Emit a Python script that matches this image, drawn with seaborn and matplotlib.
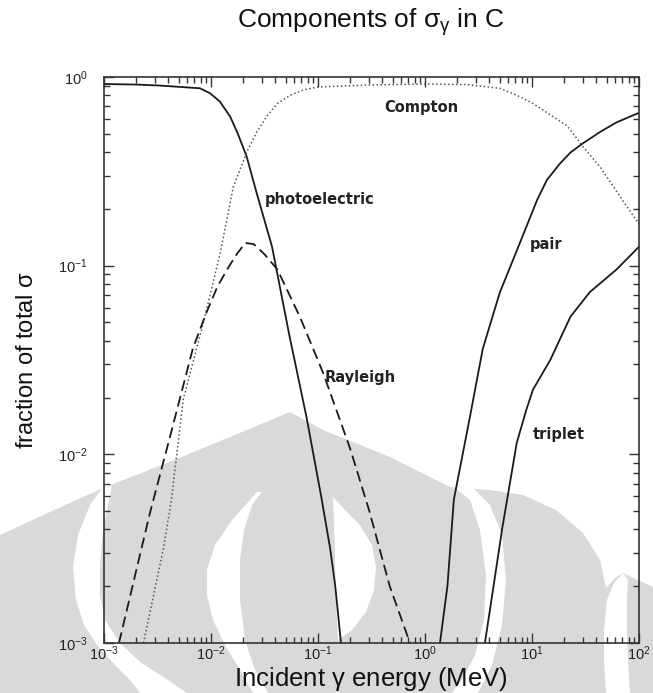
import matplotlib
matplotlib.use("Agg")
import matplotlib.pyplot as plt
from matplotlib.patches import Polygon
from matplotlib.ticker import LogLocator, NullFormatter
import pandas as pd
import seaborn as sns

# Photon energy (MeV) and fraction of the total cross section for carbon
photo_E = [0.001, 0.002, 0.0032, 0.005, 0.0079, 0.0098, 0.0121, 0.0151, 0.0178,
           0.0215, 0.0267, 0.0372, 0.054, 0.078, 0.107, 0.130, 0.145, 0.164]
photo_f = [0.918, 0.912, 0.902, 0.887, 0.871, 0.82, 0.741, 0.617, 0.501,
           0.380, 0.243, 0.126, 0.0427, 0.0158, 0.0060, 0.00316, 0.0020, 0.001]

compton_E = [0.00234, 0.00359, 0.00427, 0.0055, 0.0085, 0.0122, 0.0162, 0.0219,
             0.0269, 0.0331, 0.0417, 0.055, 0.0724, 0.10, 0.316, 1.0, 2.45, 5.0,
             7.2, 10.2, 14.8, 21.4, 30.0, 43.7, 66.0, 100.0]
compton_f = [0.001, 0.00316, 0.00575, 0.0195, 0.050, 0.117, 0.263, 0.407,
             0.513, 0.617, 0.724, 0.80, 0.853, 0.885, 0.908, 0.918, 0.912, 0.871,
             0.80, 0.724, 0.631, 0.55, 0.427, 0.331, 0.234, 0.166]

rayleigh_E = [0.00138, 0.00269, 0.00417, 0.00676, 0.0089, 0.0115, 0.0145, 0.0174,
              0.0209, 0.0251, 0.0316, 0.0417, 0.0676, 0.112, 0.200, 0.302, 0.468, 0.724]
rayleigh_f = [0.001, 0.0049, 0.0126, 0.0363, 0.055, 0.0776, 0.0977, 0.115,
              0.132, 0.130, 0.115, 0.0955, 0.0537, 0.0269, 0.0107, 0.005, 0.002, 0.001]

pair_E = [1.38, 1.62, 1.86, 2.63, 3.47, 5.0, 7.2, 11.2, 13.8, 18.2, 22.9, 30.2,
          43.7, 61.7, 100.0]
pair_f = [0.001, 0.002, 0.00575, 0.0158, 0.0363, 0.072, 0.12, 0.224, 0.285, 0.347,
          0.398, 0.447, 0.513, 0.575, 0.646]

triplet_E = [3.63, 4.37, 5.25, 7.2, 8.9, 10.2, 14.8, 22.9, 34.7, 61.7, 100.0]
triplet_f = [0.001, 0.002, 0.004, 0.0115, 0.0174, 0.022, 0.0316, 0.0537, 0.0724,
             0.0955, 0.126]

labels = ["Compton", "photoelectric", "pair", "Rayleigh", "triplet"]
label_E = [0.42, 0.032, 9.6, 0.116, 10.2]
label_f = [0.685, 0.223, 0.129, 0.0255, 0.01276]

sns.set_theme(style="ticks")
plt.rcParams["font.family"] = ["Liberation Sans", "DejaVu Sans"]
plt.rcParams["mathtext.fontset"] = "custom"
plt.rcParams["mathtext.rm"] = "Liberation Sans"
plt.rcParams["mathtext.it"] = "Liberation Sans:italic"
plt.rcParams["mathtext.default"] = "regular"

W, H = 653, 693
fig = plt.figure(figsize=(W / 100, H / 100), dpi=100)
fig.patch.set_facecolor("white")
ax = fig.add_axes([104 / W, 1 - 643 / H, 535 / W, 566 / H])
ax.patch.set_alpha(0)


def to_fig(pts):
    return [(x / W, 1 - y / H) for x, y in pts]


# faint emblem behind the plot
gray = "#d9d9d9"
emblem = [(0, 535), (50, 512), (103, 488), (167, 463), (230, 437), (290, 412),
          (323, 430), (390, 457), (450, 487), (490, 490), (523, 495), (556, 510),
          (583, 533), (600, 560), (606, 588), (615, 578), (623, 573), (653, 587),
          (653, 693), (0, 693)]
cuts = [
    [(103, 487), (90, 505), (78, 535), (73, 567), (76, 600), (84, 625), (97, 645),
     (115, 665), (130, 680), (140, 693), (187, 693), (165, 678), (140, 662),
     (120, 643), (105, 620), (100, 595), (100, 565), (103, 530), (108, 505), (112, 486)],
    [(257, 492), (250, 500), (232, 520), (215, 545), (207, 570), (207, 595), (213, 620),
     (225, 645), (240, 670), (253, 693), (268, 693), (255, 670), (245, 640), (240, 600),
     (240, 560), (244, 530), (252, 505), (262, 492)],
    [(333, 497), (345, 510), (360, 525), (372, 545), (376, 567), (374, 590), (366, 612),
     (352, 630), (338, 640), (336, 600), (335, 560), (334, 520)],
    [(455, 488), (470, 500), (480, 530), (486, 575), (484, 620), (475, 655), (462, 680),
     (452, 693), (478, 693), (492, 665), (502, 625), (506, 580), (502, 535), (490, 505),
     (473, 488)],
    [(623, 573), (614, 583), (607, 600), (604, 630), (604, 660), (606, 693), (630, 693),
     (628, 660), (627, 630), (627, 600), (628, 580)],
]
fig.add_artist(Polygon(to_fig(emblem), closed=True, transform=fig.transFigure,
                       facecolor=gray, edgecolor="none", zorder=-2))
for c in cuts:
    fig.add_artist(Polygon(to_fig(c), closed=True, transform=fig.transFigure,
                           facecolor="white", edgecolor="none", zorder=-1))

ink = "#1a1a1a"
series = [
    (photo_E, photo_f, dict(color=ink, lw=1.3, linestyle="-")),
    (compton_E, compton_f, dict(color="#555555", lw=1.1, linestyle=(0, (1, 1.6)))),
    (rayleigh_E, rayleigh_f, dict(color=ink, lw=1.3, linestyle=(0, (6, 3)))),
    (pair_E, pair_f, dict(color=ink, lw=1.3, linestyle="-")),
    (triplet_E, triplet_f, dict(color=ink, lw=1.3, linestyle="-")),
]
for xs, ys, style in series:
    df = pd.DataFrame({"E": xs, "f": ys})
    sns.lineplot(data=df, x="E", y="f", ax=ax, estimator=None, sort=False, **style)

for name, xe, yf in zip(labels, label_E, label_f):
    ax.text(xe, yf, name, fontsize=10.5, fontweight="bold", family="DejaVu Sans",
            color="#222222", ha="left", va="center")

ax.set_xscale("log")
ax.set_yscale("log")
ax.set_xlim(1e-3, 1e2)
ax.set_ylim(1e-3, 1)
ax.xaxis.set_major_locator(LogLocator(base=10, numticks=10))
ax.xaxis.set_minor_locator(LogLocator(base=10, subs=range(2, 10), numticks=20))
ax.yaxis.set_major_locator(LogLocator(base=10, numticks=10))
ax.yaxis.set_minor_locator(LogLocator(base=10, subs=range(2, 10), numticks=20))
ax.xaxis.set_minor_formatter(NullFormatter())
ax.yaxis.set_minor_formatter(NullFormatter())
ax.tick_params(which="both", direction="in", top=True, right=True,
               color="#333333", width=1.0)
ax.tick_params(which="major", length=7, labelsize=10.5, labelcolor="#222222")
ax.tick_params(which="minor", length=4)
ax.tick_params(axis="y", which="major", pad=12)
ax.tick_params(axis="x", which="major", pad=1)
for sp in ax.spines.values():
    sp.set_color("#333333")
    sp.set_linewidth(1.2)
    sp.set_visible(True)

ax.set_xlabel("")
ax.set_ylabel("fraction of total $\\sigma$", fontsize=17, color="#111111", labelpad=14)
fig.text(371 / W, 1 - 686 / H, "Incident $\\gamma$ energy (MeV)", fontsize=18.5,
         ha="center", va="baseline", color="#111111")
fig.text(371 / W, 1 - 22 / H, "Components of $\\sigma_\\gamma$ in C", fontsize=19,
         ha="center", va="center", color="#111111")

fig.savefig("out.png", dpi=100)
